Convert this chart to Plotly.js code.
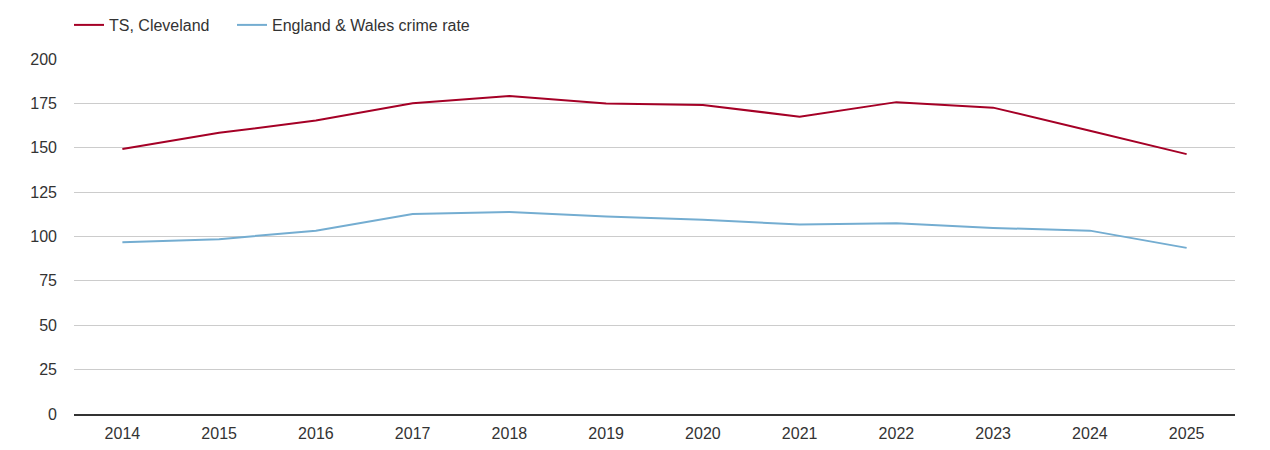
<!DOCTYPE html>
<html>
<head>
<meta charset="utf-8">
<script src="https://cdn.plot.ly/plotly-3.0.1.min.js"></script>
<style>html,body{margin:0;padding:0;background:#fff;}#chart{width:1270px;height:450px;}</style>
</head>
<body>
<div id="chart"></div>
<script>
const years = ["2014","2015","2016","2017","2018","2019","2020","2021","2022","2023","2024","2025"];
const clevelandRate = [149.3, 158.4, 165.3, 175.1, 179.1, 174.9, 174.1, 167.5, 175.7, 172.6, 159.6, 146.4];
const englandWalesRate = [96.8, 98.5, 103.3, 112.7, 113.8, 111.3, 109.5, 106.7, 107.5, 104.8, 103.3, 93.6];
const yTicks = [0, 25, 50, 75, 100, 125, 150, 175, 200];

const traces = [
  {x: years, y: clevelandRate, type: 'scatter', mode: 'lines', name: 'TS, Cleveland',
   line: {color: '#a50026', width: 2}, legend: 'legend'},
  {x: years, y: englandWalesRate, type: 'scatter', mode: 'lines', name: 'England & Wales crime rate',
   line: {color: '#74add1', width: 2}, legend: 'legend2'}
];

const legendBase = {orientation: 'h', xref: 'paper', y: 1 - 25/450, yref: 'container', yanchor: 'middle',
                    xanchor: 'left', font: {size: 16, color: '#333'}, itemwidth: 30, bgcolor: 'rgba(0,0,0,0)'};

const layout = {
  width: 1270, height: 450,
  margin: {l: 74, r: 35, t: 59, b: 36},
  paper_bgcolor: '#fff', plot_bgcolor: '#fff',
  font: {family: '"Liberation Sans", Arial, sans-serif', size: 16, color: '#333'},
  showlegend: true,
  legend: Object.assign({}, legendBase, {x: -0.0043}),
  legend2: Object.assign({}, legendBase, {x: 0.1361}),
  xaxis: {type: 'category', range: [-0.5, 11.5], showgrid: false, zeroline: false,
          showline: true, linecolor: '#333', linewidth: 1.5, ticks: '', ticklabelstandoff: 4,
          tickfont: {size: 16, color: '#333'}},
  yaxis: {range: [0, 200], tickvals: yTicks, ticktext: yTicks.map(String), showgrid: true,
          gridcolor: '#cccccc', gridwidth: 1, zeroline: false, showline: false, ticks: '',
          ticklabelstandoff: 16, tickfont: {size: 16, color: '#333'}}
};

Plotly.newPlot('chart', traces, layout, {displayModeBar: false, staticPlot: true});
</script>
</body>
</html>
